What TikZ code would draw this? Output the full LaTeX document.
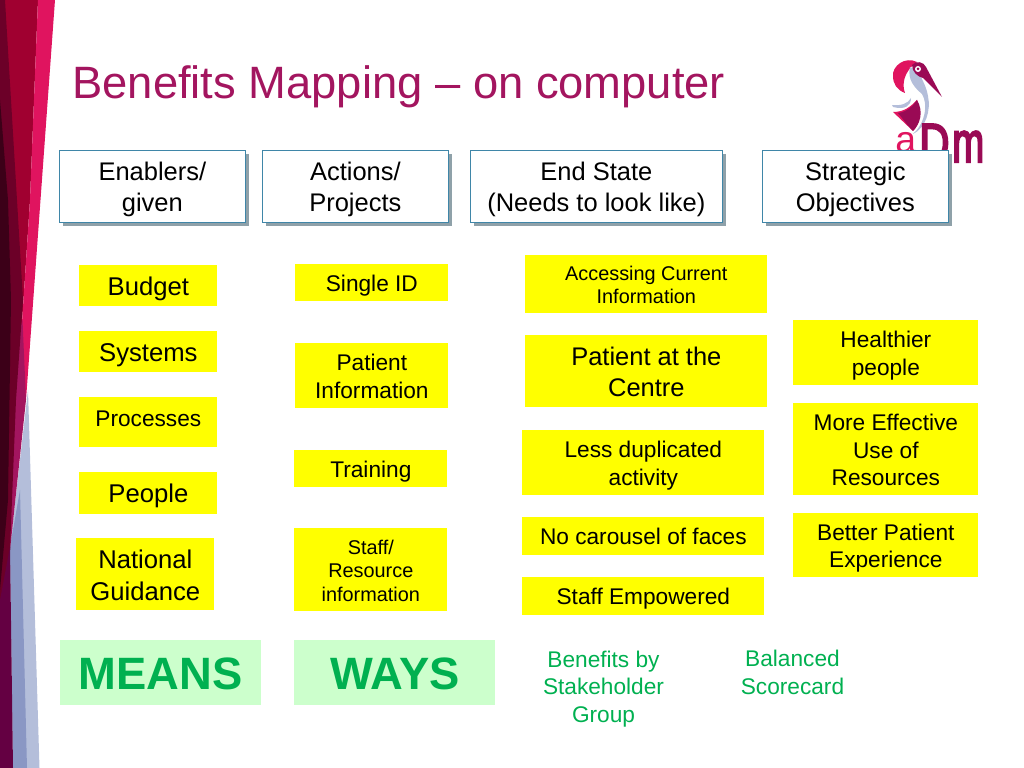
\documentclass[tikz,border=0pt]{standalone}
\usepackage{fontspec}
\setmainfont{Liberation Sans}
\newfontfamily\logofont[FakeBold=4]{Liberation Sans}
\usepackage{tikz}
\usetikzlibrary{shadows}

\newcommand{\firstline}{\rule{0pt}{1.03em}}

\definecolor{titlered}{HTML}{A3155F}
\definecolor{logored}{HTML}{9A0A55}
\definecolor{logopink}{HTML}{E0145F}
\definecolor{logoblue}{HTML}{B4BEDA}
\definecolor{midblue}{HTML}{8A97C4}
\definecolor{bandred}{HTML}{A00030}
\definecolor{bandmaroon}{HTML}{6C0028}
\definecolor{banddark}{HTML}{3C0018}
\definecolor{bandpurple}{HTML}{640042}
\definecolor{headline}{HTML}{3F86A8}
\definecolor{boxyellow}{HTML}{FFFF00}
\definecolor{meansgreen}{HTML}{00B050}
\definecolor{meansfill}{HTML}{CCFFCC}

\tikzset{
    boxsize/.style 2 args={minimum width=#1*0.2mm, minimum height=#2*0.2mm},
    capcentre/.style={execute at begin node={\rule{0pt}{.97em}}, execute at end node={\rule[-.25em]{0pt}{.25em}}},
    headbox/.style 2 args={boxsize={#1}{#2}, anchor=north west, draw=headline, fill=white, align=center, inner sep=0pt, capcentre,
        font=\fontsize{14.5}{17.6}\selectfont,
        drop shadow={shadow xshift=1.8pt, shadow yshift=-1.8pt, fill=headline!50!black, opacity=0.5}},
    yellowbox/.style 2 args={boxsize={#1}{#2}, anchor=north west, fill=boxyellow, align=center, inner sep=0pt, capcentre},
    bigtext/.style={font=\fontsize{14.6}{18}\selectfont},
    midtext/.style={font=\fontsize{12.9}{15.7}\selectfont},
    smalltext/.style={font=\fontsize{11.3}{13.4}\selectfont},
    meansbox/.style 2 args={boxsize={#1}{#2}, anchor=north west, fill=meansfill, text=meansgreen, inner sep=0pt, capcentre,
        font=\fontsize{25.8}{30}\selectfont\bfseries},
    greentext/.style={text=meansgreen, align=center, inner sep=0pt, font=\fontsize{12.9}{15.7}\selectfont},
    logotext/.style={anchor=base west, inner sep=0pt},
}

\begin{document}
\begin{tikzpicture}[x=0.2mm, y=-0.2mm]

    \useasboundingbox (0,0) rectangle (1024,768);

    % side band
    \fill[logoblue] (28,390) -- (39.5,768) -- (13,768) -- (10,547) -- cycle;
    \fill[midblue] (20,490) -- (27,768) -- (13,768) -- (10,547) -- cycle;
    \fill[bandred] (0,0) -- (38,0) -- (30,200) -- (17,400) -- (0,400) -- cycle;
    \fill[logopink] (38,0) -- (55,0) -- (26,400) -- (17,400) -- (30,200) -- cycle;
    \fill[titlered] (22.5,320) -- (26,400) -- (10,550) -- (0,560) -- (0,400) -- cycle;
    \fill[bandmaroon] (0,0) -- (5,0) -- (17,200) -- (23,300) -- (16,400) -- (10,550) -- (0,610) -- cycle;
    \fill[banddark] (0,100) -- (8,200) -- (11,300) -- (8,500) -- (0,590) -- cycle;
    \fill[bandpurple] (0,600) -- (10,547) -- (13,768) -- (0,768) -- cycle;

    % title
    \node[anchor=west, inner sep=0pt, text=titlered, font=\fontsize{25.8}{30}\selectfont] (title) at (72,87) {Benefits Mapping -- on computer};

    % logo
    \fill[logopink] (917,62) .. controls (905,56) and (892,66) .. (893,76) .. controls (893,84) and (897,90) .. (905,93) .. controls (902,85) and (903,72) .. (917,62) -- cycle;
    \fill[logoblue] (910,67) .. controls (907,80) and (915,88) .. (922,94) .. controls (928,104) and (926,122) .. (913,134) .. controls (926,128) and (931,110) .. (928,96) .. controls (926,84) and (920,78) .. (920,72) -- cycle;
    \fill[logoblue] (892,105) .. controls (900,106) and (908,104) .. (911,98) .. controls (911,106) and (905,110) .. (893,107) -- cycle;
    \fill[logopink] (893,112) .. controls (905,112) and (911,106) .. (917,100) .. controls (922,112) and (920,124) .. (913,131) -- cycle;
    \fill[logored] (898,113) .. controls (907,112) and (913,106) .. (917,100) .. controls (924,112) and (920,124) .. (913,131) .. controls (908,126) and (903,119) .. (898,113) -- cycle;
    \fill[logored] (912,65) .. controls (916,60) and (924,62) .. (926,67) -- (942,97) -- (923,78) .. controls (918,77) and (912,72) .. (912,65) -- cycle;
    \fill[white] (918,69) circle (3);
    \fill[logored] (918,69) circle (1.5);
    \node[logotext, text=logopink, font=\fontsize{25}{30}\selectfont] (logoa) at (895,153) {\scalebox{.85}[.85]{a}};
    \node[logotext, text=logored, font=\fontsize{25}{30}\logofont] (logod) at (919,162) {\scalebox{.95}[1.25]{D}};
    \node[logotext, text=logored, font=\fontsize{25}{30}\logofont] (logom) at (952,162) {\scalebox{.87}[1.3]{m}};

    % column heads
    \node[headbox={186}{72}] (enablers) at (59,150) {\firstline Enablers/\\given};
    \node[headbox={186}{72}] (actions) at (262,150) {\firstline Actions/\\Projects};
    \node[headbox={252}{72}] (endstate) at (470,150) {\firstline End State\\(Needs to look like)};
    \node[headbox={186}{72}] (objectives) at (762,150) {\firstline Strategic\\Objectives};

    % means
    \node[yellowbox={138}{41}, bigtext] (budget) at (79,265) {Budget};
    \node[yellowbox={138}{41}, bigtext] (systems) at (79,331) {Systems};
    \node[yellowbox={138}{50}, midtext] (processes) at (79,397) {\raisebox{2.3pt}{Processes}};
    \node[yellowbox={138}{42}, bigtext] (people) at (79,472) {People};
    \node[yellowbox={138}{72}, bigtext] (guidance) at (76,538) {\firstline National\\Guidance};

    % ways
    \node[yellowbox={153}{37}, midtext] (singleid) at (295,264) {Single ID};
    \node[yellowbox={153}{65}, midtext] (patientinfo) at (295,343) {\firstline Patient\\Information};
    \node[yellowbox={153}{37}, midtext] (training) at (294,450) {Training};
    \node[yellowbox={153}{83}, smalltext] (staffinfo) at (294,528) {\firstline Staff/\\Resource\\information};

    % end state
    \node[yellowbox={242}{58}, smalltext] (accessing) at (525,255) {\firstline Accessing Current\\Information};
    \node[yellowbox={242}{72}, font=\fontsize{14.5}{17.5}\selectfont] (centre) at (525,335) {\firstline Patient at the\\Centre};
    \node[yellowbox={242}{65}, midtext] (duplicated) at (522,430) {\firstline Less duplicated\\activity};
    \node[yellowbox={242}{38}, midtext] (carousel) at (522,517) {No carousel of faces};
    \node[yellowbox={242}{38}, midtext] (empowered) at (522,577) {Staff Empowered};

    % objectives
    \node[yellowbox={185}{65}, midtext] (healthier) at (793,320) {\firstline Healthier\\people};
    \node[yellowbox={185}{92}, midtext] (resources) at (793,403) {\firstline More Effective\\Use of\\Resources};
    \node[yellowbox={185}{64}, midtext] (experience) at (793,513) {\firstline Better Patient\\Experience};

    % bottom row
    \node[meansbox={201}{65}] (means) at (60,640) {MEANS};
    \node[meansbox={201}{65}] (ways) at (294,640) {WAYS};
    \node[greentext] (stakeholder) at (603.5,689) {Benefits by\\Stakeholder\\Group};
    \node[greentext] (scorecard) at (792.5,672.5) {Balanced\\Scorecard};

\end{tikzpicture}
\end{document}
